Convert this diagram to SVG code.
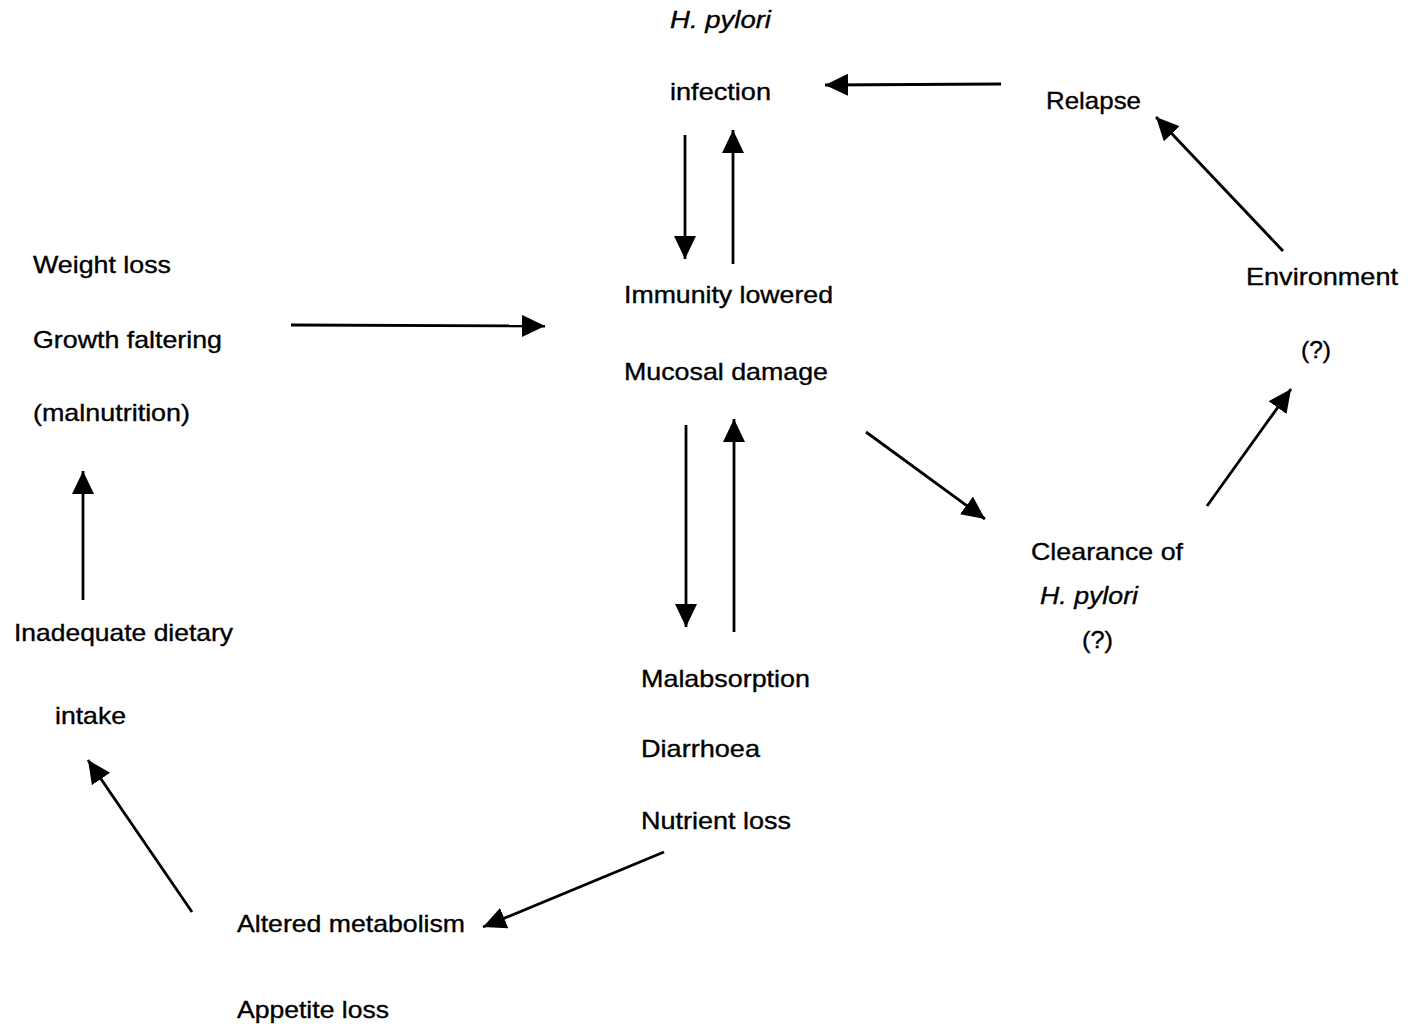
<svg xmlns="http://www.w3.org/2000/svg" width="1411" height="1028" viewBox="0 0 1411 1028">
<style>
text{font-family:"Liberation Sans",Arial,sans-serif;font-size:24px;fill:#000;stroke:#000;stroke-width:0.35}
.it{font-style:italic}
.c{stroke:#000;stroke-width:2.8;fill:none}
</style>
<defs>
<marker id="ah" markerUnits="userSpaceOnUse" markerWidth="26" markerHeight="24" refX="23" refY="11" orient="auto" viewBox="0 0 26 24">
<path d="M0,0 L23,11 L0,22 z" fill="#000"/>
</marker>
</defs>
<rect width="1411" height="1028" fill="#fff"/>
<g id="n-infection">
<text class="it" x="670" y="28" textLength="101" lengthAdjust="spacingAndGlyphs">H. pylori</text>
<text x="670" y="100" textLength="101" lengthAdjust="spacingAndGlyphs">infection</text>
</g>
<g id="n-relapse"><text x="1046" y="109" textLength="95" lengthAdjust="spacingAndGlyphs">Relapse</text></g>
<g id="n-weight">
<text x="33" y="273" textLength="138" lengthAdjust="spacingAndGlyphs">Weight loss</text>
<text x="33" y="348" textLength="189" lengthAdjust="spacingAndGlyphs">Growth faltering</text>
<text x="33" y="421" textLength="157" lengthAdjust="spacingAndGlyphs">(malnutrition)</text>
</g>
<g id="n-immunity">
<text x="624" y="303" textLength="209" lengthAdjust="spacingAndGlyphs">Immunity lowered</text>
<text x="624" y="380" textLength="204" lengthAdjust="spacingAndGlyphs">Mucosal damage</text>
</g>
<g id="n-environment">
<text x="1246" y="285" textLength="152" lengthAdjust="spacingAndGlyphs">Environment</text>
<text x="1301" y="358" textLength="30" lengthAdjust="spacingAndGlyphs">(?)</text>
</g>
<g id="n-clearance">
<text x="1031" y="560" textLength="152" lengthAdjust="spacingAndGlyphs">Clearance of</text>
<text class="it" x="1040" y="604" textLength="98" lengthAdjust="spacingAndGlyphs">H. pylori</text>
<text x="1082" y="648" textLength="31" lengthAdjust="spacingAndGlyphs">(?)</text>
</g>
<g id="n-inadequate">
<text x="14" y="641" textLength="219" lengthAdjust="spacingAndGlyphs">Inadequate dietary</text>
<text x="55" y="724" textLength="71" lengthAdjust="spacingAndGlyphs">intake</text>
</g>
<g id="n-malabsorption">
<text x="641" y="687" textLength="169" lengthAdjust="spacingAndGlyphs">Malabsorption</text>
<text x="641" y="757" textLength="119" lengthAdjust="spacingAndGlyphs">Diarrhoea</text>
<text x="641" y="829" textLength="150" lengthAdjust="spacingAndGlyphs">Nutrient loss</text>
</g>
<g id="n-altered">
<text x="237" y="932" textLength="228" lengthAdjust="spacingAndGlyphs">Altered metabolism</text>
<text x="237" y="1018" textLength="152" lengthAdjust="spacingAndGlyphs">Appetite loss</text>
</g>
<g id="connectors" class="c">
<line class="c" x1="1001" y1="84" x2="825" y2="85" marker-end="url(#ah)"/>
<line class="c" x1="685" y1="135" x2="685" y2="259" marker-end="url(#ah)"/>
<line class="c" x1="733" y1="264" x2="733" y2="130" marker-end="url(#ah)"/>
<line class="c" x1="291" y1="325" x2="545" y2="326" marker-end="url(#ah)"/>
<line class="c" x1="686" y1="425" x2="686" y2="627" marker-end="url(#ah)"/>
<line class="c" x1="734" y1="632" x2="734" y2="419" marker-end="url(#ah)"/>
<line class="c" x1="866" y1="432" x2="985" y2="519" marker-end="url(#ah)"/>
<line class="c" x1="1207" y1="506" x2="1291" y2="389" marker-end="url(#ah)"/>
<line class="c" x1="1283" y1="251" x2="1156" y2="117" marker-end="url(#ah)"/>
<line class="c" x1="83" y1="600" x2="83" y2="471" marker-end="url(#ah)"/>
<line class="c" x1="192" y1="912" x2="88" y2="760" marker-end="url(#ah)"/>
<line class="c" x1="664" y1="852" x2="483" y2="927" marker-end="url(#ah)"/>
</g>
</svg>
